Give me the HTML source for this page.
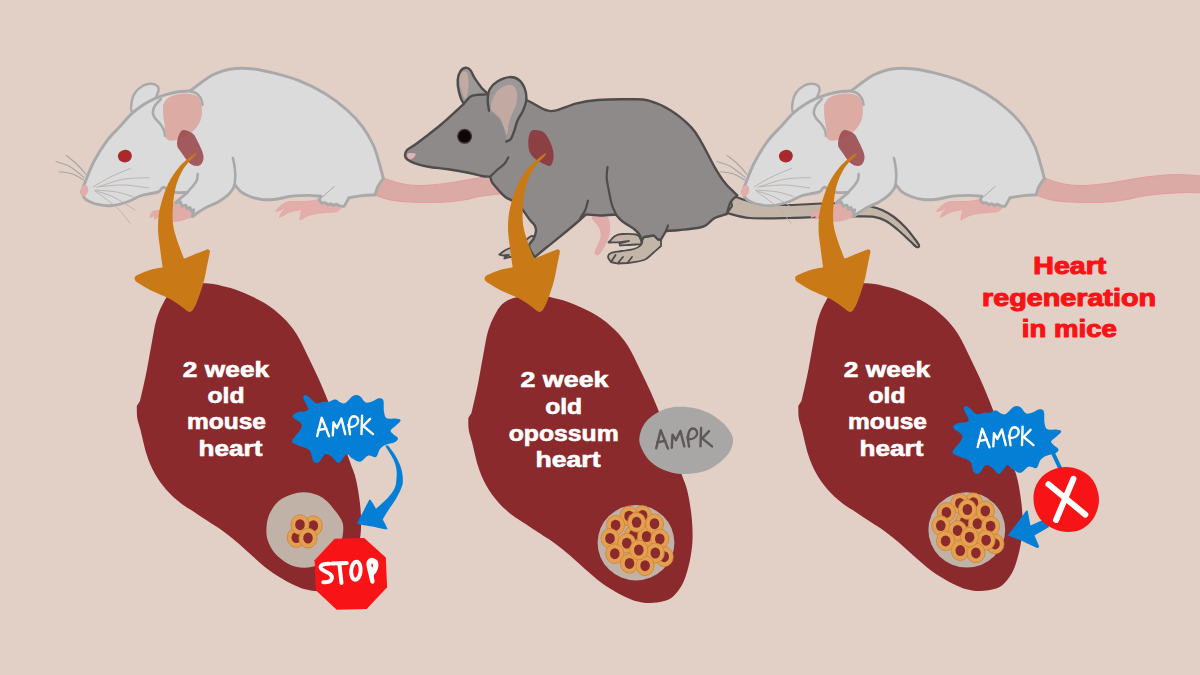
<!DOCTYPE html>
<html><head><meta charset="utf-8"><title>Heart regeneration in mice</title>
<style>html,body{margin:0;padding:0;background:#e2d0c7;overflow:hidden}svg{display:block}</style></head>
<body>
<svg width="1200" height="675" viewBox="0 0 1200 675"><defs>
<g id="mouse"><path d="M381 176C381.8 176.5 382.3 177.7 386 179C389.7 180.3 396.8 182.9 403 184C409.2 185.1 415.3 185.8 423 185.6C430.7 185.4 440.3 184.2 449 183C457.7 181.8 466.7 179.8 475 178.5C483.3 177.2 491.7 176.2 499 175.5C506.3 174.8 511.3 174.3 519 174.5C526.7 174.7 535.7 175.6 545 176.5C554.3 177.4 570 179.4 575 180C575 182.7 575 193.3 575 196C570 195.5 554.3 193.6 545 193C535.7 192.4 526.7 192.4 519 192.6C511.3 192.8 505.7 193.3 499 194C492.3 194.7 485 195.5 479 196.5C473 197.5 469.7 199 463 200C456.3 201 447.7 202.1 439 202.4C430.3 202.7 419.3 202.5 411 202C402.7 201.5 395 200.8 389 199.6C383 198.4 377.3 195.8 375 195C376 191.8 380 179.2 381 176Z" fill="#dcaaa5" stroke="#e39d9d" stroke-width="1.1"/><path d="M150.1 217.6C150.2 216.9 150.4 214.6 151 213.5C151.6 212.4 152.3 211.8 153.5 211.3C154.7 210.8 156.3 210.9 158.4 210.3C160.5 209.7 163.1 208.6 166 207.5C168.9 206.4 172.8 204.2 175.8 203.5C178.8 202.8 181.2 202.2 184 203C186.8 203.8 191.2 205.8 192.5 208C193.8 210.2 193.1 214.5 192 216.3C190.9 218.1 187.8 218.3 186 219C184.2 219.7 183.3 220 181.3 220.4C179.3 220.8 176.6 221.5 174 221.3C171.4 221.2 168.6 220.3 166 219.5C163.4 218.7 159.7 217.2 158.4 216.7C157.8 217.2 155.3 219.1 154.7 219.6C154.7 219 154.6 216.6 154.6 216C153.8 216.3 150.8 217.3 150.1 217.6Z" fill="#dfaca8" stroke="#e2a09f" stroke-width="0.6"/><path d="M323 199L308 201.3L289 201.5C284 202.5 278 207 275.6 211.6C279 211.5 283 208.5 287 207.5C283 210 280 214 279.4 217.6C283 216 287 213 291 211.6C295 210.5 299 210 302 209.7C300.5 213 299.8 217 300 220.3C303 218.5 306.5 216 310.5 215C315 213.5 322 213 336.5 211.8C339 210.5 341 208.5 343.5 206L340 200Z" fill="#e3adaa" stroke="#e2a09f" stroke-width="0.6"/><path d="M132.5 112C130.1 111.3 131.2 105.1 131.7 101.9C132.1 98.7 133.2 95.3 135.2 92.6C137.1 89.9 140.7 87 143.4 85.5C146.1 84 149.2 83.7 151.6 83.8C153.9 83.9 156.3 85 157.5 86.1C158.7 87.2 158.7 88.7 158.6 90.2C158.5 91.7 157.5 93.5 156.9 94.9C156.3 96.3 156.9 96.8 155.1 98.6C153.3 100.4 149.8 103.8 146 106C142.2 108.2 134.9 112.7 132.5 112Z" fill="#dbdbdb" stroke="#a9a9a9" stroke-width="2.5"/><path d="M81.5 192C82.2 190.1 83.7 185.7 85.7 180.7C87.7 175.7 90.2 168.7 93.7 162C97.2 155.3 102.6 146.6 107 140.7C111.4 134.8 115.9 131 120 126.5C124.1 122 127.8 117.2 131.7 113.6C135.6 110 139.5 107.3 143.4 104.8C147.3 102.3 151.2 100.2 155.1 98.4C159 96.7 162.9 95.4 166.8 94.3C170.7 93.2 174.6 92.2 178.5 91.7C182.4 91.2 188.2 91.1 190.2 91C192.1 89.5 198 84.8 201.9 82C205.8 79.2 209.1 76.6 213.7 74.5C218.3 72.4 223.5 70.2 229.7 69.2C235.9 68.2 243.9 68.1 251 68.7C258.1 69.3 264.3 70.7 272.3 72.7C280.3 74.7 290.1 77.2 299 80.7C307.9 84.2 317.7 89.1 325.7 94C333.7 98.9 340.8 104.5 347 110C353.2 115.5 358.6 121.3 363 127.3C367.4 133.3 370.9 139.9 373.7 146C376.4 152.1 377.9 158.6 379.5 164C381.1 169.4 382.7 176.1 383.3 178.5C382.4 179.9 379.1 184.2 377.7 186.9C376.3 189.7 375.4 193.7 375 195C372.9 195.1 366.8 195.1 362.5 195.6C358.2 196.1 351.2 197.4 349 197.8C348.2 199.2 344.9 205 344.1 206.4C343.4 206.3 340.5 206 339.8 205.9C339.2 205.6 337 204.5 336.5 204.2C336 204.4 333.8 205.1 333.2 205.3C332.8 205 331 204 330.5 203.7C330.1 203.9 328.2 204.6 327.8 204.8C327.4 204.4 325.6 203 325.1 202.6C324.6 202.7 322.4 203.1 321.9 203.2C321.4 202.6 319.6 200.4 319.2 199.9C319.5 199.3 320.7 196.8 321 196.2C318.9 196.1 313.1 195.4 308.3 195.4C303.5 195.4 297.5 195.5 292.1 196.1C286.7 196.7 280.8 198.6 275.8 199.2C270.8 199.8 266.3 199.9 262 199.5C257.7 199.1 253.5 197.8 250 196.5C246.5 195.2 243.6 193.9 241 191.9C238.4 189.9 235.7 185.7 234.6 184.5C234.3 185.3 234 187.3 232.8 189.2C231.5 191 229.7 193.5 227.2 195.6C224.7 197.7 221.8 199.8 218 202C214.2 204.2 208.6 206.1 204.3 208.5C200 210.9 194.3 215.3 192.3 216.7C192.5 215.5 193.5 211 193.7 209.8C193.3 210 191.8 211 191.4 211.2C191.2 210.6 190.2 208.1 190 207.5C189.6 207.7 187.8 208.7 187.3 208.9C187.1 208.3 186.1 205.9 185.9 205.2C185.3 205.4 182.8 206 182.2 206.2C181.9 205.5 180.7 202.7 180.4 202C179.6 202.1 176.2 202.4 175.4 202.5C177.4 200.8 185.5 194.2 187.5 192.5C186.5 192.5 183.3 192.6 181.3 192.6C179.3 192.6 177.6 192.9 175.4 192.4C173.2 191.9 170.1 190.3 168 189.5C165.9 188.7 164.6 186.9 163 187.3C161.4 187.7 160.7 190.8 158.4 191.9C156.1 193 152.3 193.1 149.2 193.8C146.1 194.5 143.5 194.7 140 196C136.5 197.3 132.9 199.9 128.3 201.5C123.7 203.1 117.2 205 112.3 205.5C107.4 206 103.4 205.7 99 204.7C94.6 203.7 88.6 201.4 85.7 199.3C82.8 197.2 82.2 193.2 81.5 192Z" fill="#dbdbdb" stroke="#a9a9a9" stroke-width="2.9" stroke-linejoin="round"/><path d="M234.6 185C234.7 183.4 235.3 178.5 235.3 175.3C235.3 172.1 234.9 168.9 234.5 166C234.1 163.1 233.2 159.3 232.9 158" fill="none" stroke="#a9a9a9" stroke-width="2.6" stroke-linecap="round"/><path d="M187.5 192C188.5 190.9 191.7 187.5 193.3 185.5C194.9 183.5 196.2 181.9 196.9 180C197.6 178.1 197.6 175 197.7 174" fill="none" stroke="#a9a9a9" stroke-width="2.6" stroke-linecap="round"/><path d="M161 99C160 100.1 156.5 103.2 155.1 105.4C153.7 107.7 152.8 110.3 152.8 112.5C152.8 114.7 153.8 116.3 155.1 118.3C156.4 120.2 158.9 122.2 160.4 124.2C161.9 126.2 163.1 128.1 163.9 130C164.7 131.9 164.9 134.9 165.1 135.9" fill="none" stroke="#a9a9a9" stroke-width="2.6" stroke-linecap="round"/><path d="M190.2 91.2C191.2 91.5 194.3 91.9 196.1 93.1C197.9 94.3 199.7 96.5 200.8 98.4C201.9 100.4 202.2 103.7 202.5 104.8" fill="none" stroke="#a9a9a9" stroke-width="2.6" stroke-linecap="round"/><path d="M334.3 186.4L320 199" fill="none" stroke="#a9a9a9" stroke-width="1" stroke-linecap="round"/><path d="M163.1 107.8C163.2 105.6 162.9 104.9 163.9 103.1C164.9 101.3 166.4 98.8 169.2 97.2C172 95.6 177 94.2 180.9 93.7C184.8 93.2 189.5 93.4 192.6 94.3C195.7 95.2 198 96.6 199.6 99C201.2 101.4 201.7 105.5 201.9 108.9C202.1 112.3 201.8 116.4 200.8 119.5C199.8 122.6 197.9 125.4 196.1 127.7C194.3 130 192.5 131.8 190.2 133.5C187.8 135.2 184.7 137 182 138.2C179.3 139.4 176.1 140.2 173.8 140.5C171.5 140.8 169.4 140.8 168 140C166.6 139.2 166.1 138 165.6 135.9C165.1 133.8 165.5 131 165.1 127.7C164.7 124.4 163.6 119.3 163.3 116C163 112.7 163 110 163.1 107.8Z" fill="#dcaca4"/><path d="M183.2 130C185.5 129.6 190.3 131.8 192.6 133.5C194.9 135.2 195.5 137.1 197.2 140.5C199 143.9 202.2 150.4 203.1 154C204 157.6 203.4 160 202.5 162C201.6 164 199.8 165.8 197.7 166C195.6 166.2 192.5 165.6 189.7 163.3C186.9 161 183.1 155 181 152C178.9 149 177.5 147.9 177.1 145.2C176.7 142.5 177.5 138.4 178.5 135.9C179.5 133.4 180.8 130.4 183.2 130Z" fill="#9c4b50" fill-opacity="0.9"/><ellipse cx="124.9" cy="156.1" rx="7" ry="6.3" transform="rotate(-10 124.9 156.1)" fill="#a72b2d"/><ellipse cx="84.3" cy="190.8" rx="3.8" ry="5.8" transform="rotate(15 84.3 190.8)" fill="#e3aeaa"/><path d="M66 155.3C67.8 156.8 73.4 160.8 76.7 164C80 167.2 84.5 172.8 86 174.5" stroke="#a7a6a5" stroke-width="1.1" fill="none" stroke-linecap="round"/><path d="M56 161.6C58.3 162.4 65.3 164 70 166.7C74.7 169.3 81.7 175.7 84 177.5" stroke="#a7a6a5" stroke-width="1.1" fill="none" stroke-linecap="round"/><path d="M59.3 171.7C61.5 172.1 68.7 172.6 72.7 174C76.7 175.4 81.7 179 83.5 180" stroke="#a7a6a5" stroke-width="1.1" fill="none" stroke-linecap="round"/><path d="M93.3 186.7C96.1 185.1 103.8 180.4 110 177.3C116.2 174.2 127.2 169.8 130.7 168.3" stroke="#b5afab" stroke-width="0.9" fill="none" stroke-linecap="round"/><path d="M96.7 187.3C101.1 186 114.5 180.9 123.3 179.3C132.1 177.7 145 177.9 149.3 177.6" stroke="#b5afab" stroke-width="0.9" fill="none" stroke-linecap="round"/><path d="M99.3 186.7C103.3 186.4 115.1 184.8 123.3 185C131.5 185.2 144.5 187.5 148.7 188" stroke="#b5afab" stroke-width="0.9" fill="none" stroke-linecap="round"/><path d="M96 190C99.5 190.3 110.6 190.9 116.7 192C122.8 193.1 130 195.8 132.7 196.5" stroke="#b5afab" stroke-width="0.9" fill="none" stroke-linecap="round"/><path d="M95.3 190.7C98.4 191.8 107.4 194.1 114 197.3C120.6 200.5 131.5 207.9 135 210" stroke="#b5afab" stroke-width="0.9" fill="none" stroke-linecap="round"/><path d="M94.7 190.7C96.8 192.2 103.2 196.8 107.3 200C111.4 203.2 115.5 206.1 119.3 210C123.1 213.9 128.2 221.1 130 223.3" stroke="#b5afab" stroke-width="0.9" fill="none" stroke-linecap="round"/></g>
<path id="oarrow" d="M195.3 155.2C193.7 157.5 187.2 162.9 184 168C180.8 173.1 177.8 179.7 176 186C174.2 192.3 173.5 199.7 173 206C172.5 212.3 172.3 218.3 173 224C173.7 229.7 175.2 234.2 177 240C178.8 245.8 182.8 255.6 184 258.7C187.5 257.3 200.9 251.7 205 250.2C209.1 248.7 207.5 249.4 208.3 249.6C209.1 249.8 209.7 250.5 209.9 251.2C210.1 251.9 210.1 250.9 209.5 254C208.9 257.1 207.3 265.1 206.3 270C205.3 274.9 204.7 278.4 203.3 283.3C201.9 288.2 199.5 295.3 198 299.3C196.5 303.3 195.3 305.6 194.3 307.5C193.3 309.4 192.6 310.3 191.8 311C191 311.7 190.2 312 189.3 311.9C188.4 311.8 187.7 311.4 186.5 310.6C185.3 309.8 184.8 308.9 182 307C179.2 305.1 175.3 301.8 170 299C164.7 296.2 155.2 292.6 150 290C144.8 287.4 141.5 285.1 139 283.5C136.5 281.9 135.9 281.5 135.2 280.5C134.5 279.5 134.4 278.4 134.8 277.5C135.2 276.6 135 276.2 137.5 275C140 273.8 145.8 271.3 150 270C154.2 268.7 160.6 267.8 162.7 267.3C162.2 264.1 160.8 254.6 160 248C159.2 241.4 158 234.7 158 228C158 221.3 158.3 215.3 160 208C161.7 200.7 164.7 191 168 184C171.3 177 175.8 170.9 180 166C184.2 161.1 190.9 156.2 193.5 154.4C196.1 152.6 196.9 152.9 195.3 155.2Z" fill="#c97916"/>
<path id="heart" d="M540 295.5C546.3 295.9 552.2 297.5 558 299C563.8 300.5 568.2 301.8 574.5 304.5C580.8 307.2 589.3 310.8 596 315C602.7 319.2 609.2 324.3 614.5 329.5C619.8 334.7 623.7 339.2 628 346C632.3 352.8 636.3 361.8 640.5 370.5C644.7 379.2 648.7 387.2 653.3 398C657.9 408.8 663.3 422.4 668 435C672.7 447.6 678.1 464 681.3 473.3C684.5 482.6 685.6 483.8 687.3 490.7C689 497.6 690.5 506.9 691.4 514.7C692.3 522.5 692.7 530.7 692.6 537.5C692.5 544.3 691.7 549.8 690.8 555.5C689.9 561.2 688.5 567 687 572C685.5 577 684.2 581.2 681.7 585.5C679.2 589.8 675.6 594.8 672 597.5C668.4 600.2 664 601.1 660 602C656 602.9 651.3 603 648 603C644.7 603 643 602.7 640 602C637 601.3 634.2 600.8 630 599C625.8 597.2 620 594.4 615 591.5C610 588.6 605 585.5 600 581.8C595 578 590 573.4 585 569C580 564.6 575 559.8 570 555.5C565 551.2 560 547.1 555 543.5C550 539.9 544.8 536.8 540 533.6C535.2 530.4 530.7 527.3 526 524.2C521.3 521.1 516.7 518.7 512 515C507.3 511.3 502.3 507 498 502C493.7 497 489.3 491 486 485C482.7 479 480.3 473.2 478 466C475.7 458.8 473.5 448 472 442C470.5 436 469.4 434 468.8 430C468.2 426 468.4 420 468.3 418C468.8 417.2 471 413.8 471.5 413C472.5 408.7 475.4 396.5 477.3 387.3C479.2 378.1 480.9 367.3 482.7 358C484.5 348.7 485.8 338.9 488 331.3C490.2 323.8 493.2 317.6 496 312.7C498.8 307.8 501 304.7 505 302C509 299.3 514.2 297.6 520 296.5C525.8 295.4 533.7 295.1 540 295.5Z" fill="#8b2a2c"/>
<g id="cell"><ellipse rx="9.1" ry="9.9" fill="#e4a050" stroke="#c9802f" stroke-width="0.7"/><ellipse rx="4.8" ry="5.5" fill="#8b2a2c"/></g>
<g id="cluster"><ellipse rx="38.4" ry="37.7" fill="#c0b2a6"/><use href="#cell" x="6.6" y="-27.2"/><use href="#cell" x="-6.9" y="-26.5"/><use href="#cell" x="-2.4" y="-7.7"/><use href="#cell" x="10.6" y="-6.2"/><use href="#cell" x="-20.4" y="-17.5"/><use href="#cell" x="18.5" y="-19"/><use href="#cell" x="-26" y="-4.3"/><use href="#cell" x="23.8" y="-3.7"/><use href="#cell" x="28.2" y="14"/><use href="#cell" x="-9.2" y="0.5"/><use href="#cell" x="-21.2" y="11"/><use href="#cell" x="19.3" y="10.3"/><use href="#cell" x="0.6" y="-20.4"/><use href="#cell" x="-6.5" y="20.7"/><use href="#cell" x="9.1" y="23"/><use href="#cell" x="2.8" y="7.3"/></g>
<g id="ampk" fill="none" stroke-width="2.4" stroke-linecap="round" stroke-linejoin="round"><path d="M317.2 436L321.7 417.8L329 436.3"/><path d="M318.4 430L326.3 428.6"/><path d="M332.8 435.4L333.5 422.3L336.9 427.9L341.4 418.6L345.3 434.1"/><path d="M348.4 424.6C349.3 429 349.8 431 350 434.3"/><path d="M349 425.5C349 420 351 416.3 353.6 416.2C357 416.2 358.8 419 357.9 422.3C357 425 353.5 427 349.6 427"/><path d="M362.1 415.6L361.5 434.1"/><path d="M370.1 418.8L363.2 426L373 434.1"/></g>
<path id="blob" d="M305.3 395C306.2 394.8 307.2 395.7 309 397C310.8 398.3 313.5 402.2 316 403C318.5 403.8 321.8 401.9 324 401.7C326.2 401.5 327.8 402 329.3 401.7C330.9 401.4 332 400 333.3 399.7C334.6 399.4 335.9 399.6 337 400C338.1 400.4 338.6 401.8 340 402.3C341.4 402.8 343.1 404.1 345.3 403C347.5 401.9 350.9 396.8 353.3 395.7C355.8 394.6 358 395.2 360 396.3C362 397.4 363.3 401.4 365.3 402.3C367.3 403.2 369.8 402.2 372 401.5C374.2 400.8 376.8 398.5 378.7 398.3C380.6 398.1 382.4 398.1 383.3 400.3C384.2 402.5 383.4 408.7 384 411.7C384.6 414.7 384.9 417.2 386.7 418.3C388.5 419.4 392.7 418.2 395 418.5C397.3 418.8 400.5 419.1 400.7 420.3C400.9 421.5 397.7 423.8 396 425.5C394.3 427.2 391.2 428.9 390.7 430.3C390.2 431.7 391.8 432.7 393 434C394.2 435.3 397.7 436.9 398 438.3C398.3 439.7 396.8 441.2 394.7 442.3C392.6 443.4 387.8 443.9 385.3 445C382.9 446.1 381.6 447 380 449C378.4 451 378 455.9 376 457C374 458.1 370.7 454.9 368 455.7C365.3 456.5 362.7 461.3 360 461.7C357.3 462.1 354.2 459.5 352 458.3C349.8 457.1 348.9 453.5 346.7 454.3C344.5 455.1 341.1 462.6 338.7 463C336.2 463.4 334.2 458.4 332 457C329.8 455.6 327.5 453.4 325.3 454.3C323.1 455.2 320.7 461.2 318.7 462.3C316.7 463.4 314.9 463 313.3 461C311.7 459 312 453 309.3 450.3C306.6 447.6 300.2 446.6 297.3 445C294.4 443.4 291.6 443.4 292 441C292.4 438.6 298.4 433.2 300 430.3C301.6 427.4 302.5 425.9 301.3 423.7C300.1 421.5 293.4 418.9 292.7 417C292 415.1 294.8 413.5 297.3 412.3C299.9 411.1 307 412 308 409.7C309 407.4 303.8 400.8 303.3 398.3C302.9 395.9 304.4 395.2 305.3 395Z" fill="#047fd5"/>
</defs>
<rect width="1200" height="675" fill="#e2d0c7"/>
<use href="#mouse"/>
<g id="opossum"><path d="M592 217C592.7 215.8 597.5 216 600 216C602.5 216 605.4 215.5 607 217C608.6 218.5 609.2 222 609.5 225C609.8 228 609.8 231.7 609 235C608.2 238.3 606.5 242 605 245C603.5 248 601.3 251.3 600 253C598.7 254.7 597.8 255.2 597 255C596.2 254.8 594.8 253.7 595 252C595.2 250.3 597 247.5 598 245C599 242.5 600.7 239.7 601 237C601.3 234.3 600.8 231.3 600 229C599.2 226.7 597.3 225 596 223C594.7 221 591.3 218.2 592 217Z" fill="#e0acaa" stroke="#e6a0a2" stroke-width="0.7"/><path d="M727 213C727.8 211.8 731.2 207.2 732 206C731.7 204.7 730.3 199.3 730 198C731 197.8 735 197.2 736 197C738 197.7 744 199.8 748 201C752 202.2 753 203.3 760 204C767 204.7 779.7 205.1 790 205C800.3 204.9 812 203.7 822 203.5C832 203.3 842 203.5 850 204C858 204.5 864.7 205.5 870 206.5C875.3 207.5 878 208.2 882 210C886 211.8 890 214 894 217C898 220 902.7 224.5 906 228C909.3 231.5 911.8 235.1 914 238C916.2 240.9 918.6 243.8 919 245.3C919.4 246.8 918 247.7 916.5 247C915 246.3 913.1 243.8 910 241C906.9 238.2 902 233.3 898 230C894 226.7 890 223.2 886 221C882 218.8 879.3 217.6 874 216.8C868.7 216 863 216.4 854 216.4C845 216.4 830.7 216.7 820 217C809.3 217.3 801.7 217.8 790 218C778.3 218.2 760.5 218.8 750 218C739.5 217.2 730.8 213.8 727 213Z" fill="#c3b5a8" stroke="#4f4c4c" stroke-width="2.2" stroke-linejoin="round"/><path d="M608.5 242.5C609.6 241.4 612.8 237.4 615 236C617.2 234.6 618.5 234.2 622 234C625.5 233.8 633 233.8 636 234.5C639 235.2 639.2 236.4 640 238C640.8 239.6 641.7 242.9 641 244C640.3 245.1 639.5 244.2 636 244.5C632.5 244.8 622.7 245.3 620 245.5C619.9 245.2 619.6 243.8 619.5 243.5C621.1 243.1 627.4 241.4 629 241C627.3 241.2 620.7 242.1 619 242.3C617.2 242.3 610.2 242.5 608.5 242.5Z" fill="#c3b5a8" stroke="#4f4c4c" stroke-width="1.8" stroke-linejoin="round"/><path d="M642.5 240C642.8 239.5 643.8 237.5 644 237C645.7 236.8 652.3 235.8 654 235.5C654.7 236.2 657.3 238.8 658 239.5C658.5 239.5 660.5 239.5 661 239.5C661 240.6 661 244.9 661 246C659.5 247.3 654.8 251.7 652 254C649.2 256.3 648 258.5 644 260C640 261.5 630.8 262.5 628 263C625.2 263.5 627.6 263 627.5 263C628.2 262 631.2 258 632 257C631.2 258 628.2 262 627.5 263C625.8 263.1 619.2 263.4 617.5 263.5C618.4 262.4 622.1 258.1 623 257C622.1 258.1 618.4 262.4 617.5 263.5C616.4 263.2 612.1 262.2 611 262C611.8 260.8 614.8 256.2 615.5 255C614.8 256.2 611.8 260.8 611 262C610.5 261.2 608 258.5 608 257C608 255.5 608.7 254 611 253C613.3 252 618.2 251.7 622 251C625.8 250.3 630.8 250 634 249C637.2 248 639.6 246.5 641 245C642.4 243.5 642.2 240.8 642.5 240Z" fill="#c3b5a8" stroke="#4f4c4c" stroke-width="1.8" stroke-linejoin="round"/><path d="M499.3 254.7C500.1 254.1 502.4 252 504 251C505.6 250 506.3 249.5 509 248.5C511.7 247.5 516.2 247.1 520 245C523.8 242.9 529.3 235.8 532 236C534.7 236.2 538 242.7 536 246C534 249.3 524.3 254.2 520 256C515.7 257.8 512.6 256.6 510 257C507.4 257.4 505.2 258.2 504.3 258.5C504.5 258.2 505.3 256.8 505.5 256.5C506.1 256.2 508.4 255.2 509 255C508 255.1 504 255.4 503 255.5C502.4 255.4 499.9 254.8 499.3 254.7Z" fill="#c3b5a8" stroke="#4f4c4c" stroke-width="1.8" stroke-linejoin="round"/><path d="M464.3 103.5C461.5 102.5 460.1 95.9 459 92C457.9 88.1 457.5 83.5 457.7 80C457.9 76.5 459 73.3 460.3 71.3C461.6 69.2 464 67.9 465.7 67.7C467.4 67.5 468.8 68.2 470.3 70C471.9 71.8 473.1 75.7 475 78.7C476.9 81.7 479.7 85.4 481.7 88C483.7 90.6 487.9 92.6 487 94.3C486.1 96 479.8 96.5 476 98C472.2 99.5 467.1 104.5 464.3 103.5Z" fill="#9b9897" stroke="#4f4c4c" stroke-width="2.4"/><path d="M465 98.7C463.9 98 461.9 92.4 461 89.3C460.1 86.2 459.6 82.6 459.6 80C459.6 77.4 460.2 74.9 461 73.5C461.8 72.1 463.4 71.5 464.5 71.5C465.6 71.5 466.6 71.6 467.3 73.5C468 75.4 468.4 79.4 468.5 82.7C468.6 86 468.3 90.6 467.7 93.3C467.1 96 466.1 99.4 465 98.7Z" fill="#c2a9a1"/><path d="M405 155.5C405 153.9 405.3 151.8 407 150C408.7 148.2 411.4 147.2 415 144.7C418.6 142.1 423.9 138.1 428.3 134.7C432.8 131.2 437.2 127.8 441.7 124C446.1 120.2 451.2 115.5 455 112C458.8 108.5 462.8 104.8 464.3 103.3C465.4 102.1 468.6 97.7 471 96.3C473.4 94.9 476.3 95 479 94.7C481.7 94.4 481.8 94.4 487 94.4C492.2 94.5 503.4 94.1 510 95C516.5 95.9 521.9 98.3 526.3 100C530.7 101.7 533.1 103.6 536.3 105.3C539.5 107 542.6 109.1 545.7 110C548.8 110.9 549.8 111.8 555 110.7C560.2 109.6 569.5 105.1 576.7 103.3C583.9 101.5 589.1 100.7 598 100C606.9 99.3 621.5 99.2 630 99.3C638.5 99.4 642 98.9 648.7 100.7C655.4 102.5 662.9 105.6 670 110C677.1 114.4 686 121.8 691.3 127.3C696.6 132.8 698.1 136.6 702 143.3C705.9 150 710.8 160.6 714.7 167.3C718.6 174 721.5 178.6 725.3 183.3C729.1 188 735.3 193.3 737.3 195.3C736.2 196.4 732.5 198.9 730.7 202C728.9 205.1 727.4 212 726.7 214C724.7 214.7 718 216.2 714.7 218C711.4 219.8 709.2 223.1 706.7 224.7C704.2 226.3 704.5 226.6 700 227.5C695.5 228.4 685.7 229.4 680 230C674.3 230.6 668.3 230.8 666 231C665.2 232.4 661.8 238.1 661 239.5C660.5 239.5 658.5 239.5 658 239.5C657.3 238.8 654.7 236.2 654 235.5C652.3 235.8 645.7 236.8 644 237C643.6 237.4 641.9 239.1 641.5 239.5C641.1 238.6 640.2 235.8 639 234C637.8 232.2 636.8 231.2 634 229C631.2 226.8 625 223.4 622 221C619 218.6 617 215.6 616 214.5C613.3 214.7 605 215.5 600 215.5C595 215.5 588.3 214.7 586 214.5C584.8 215.6 583 217.3 578.7 221C574.4 224.7 565.3 232.3 560 236.7C554.7 241.1 550.9 243.9 546.7 247.3C542.5 250.7 536.7 255.6 534.7 257.3C533.8 255.4 529.2 249.1 529 246C528.8 242.9 532.3 241.5 533.5 239C534.7 236.5 535.8 233.3 536 231C536.2 228.7 535.7 227.1 534.7 225.3C533.7 223.5 532.1 222.7 530 220C527.9 217.3 524.5 212 522 209C519.5 206 517.4 203.9 514.7 202C512 200.1 508.3 199.2 505.7 197.3C503.1 195.4 501.2 193.1 499 190.7C496.8 188.3 493.8 185 492.3 182.7C490.9 180.4 490.6 177.7 490.3 176.7C488.9 176.6 485.4 176.7 481.7 176C478 175.3 473.9 173.8 468.3 172.7C462.7 171.6 455 170.3 448.3 169.3C441.6 168.3 433.9 167.7 428.3 166.7C422.8 165.7 418.6 164.5 415 163.3C411.4 162.1 408.7 160.6 407 159.3C405.3 158 405 157.1 405 155.5Z" fill="#8e8a89" stroke="#4f4c4c" stroke-width="2.4" stroke-linejoin="round"/><path d="M490.3 176.7C491.3 175.7 494 172.8 496.3 170.7C498.6 168.6 502.3 166.2 504.3 164C506.3 161.8 507.6 158.4 508.3 157.3" fill="none" stroke="#4f4c4c" stroke-width="2.2" stroke-linecap="round"/><path d="M607.5 167C607.4 168.8 606.4 173.5 606.7 178C607 182.5 608.6 189.5 609.5 194C610.4 198.5 610.9 201.6 612 205C613.1 208.4 615.3 212.9 616 214.5" fill="none" stroke="#4f4c4c" stroke-width="2.2" stroke-linecap="round"/><path d="M668 225.5C667.7 226.4 666.3 230.1 666 231" fill="none" stroke="#4f4c4c" stroke-width="2.2" stroke-linecap="round"/><path d="M588 200.7C587.5 202.2 586.6 207 585.3 210C584 213 580.9 217.1 580 218.5" fill="none" stroke="#4f4c4c" stroke-width="2.2" stroke-linecap="round"/><path d="M489 110.7C488.8 108.9 487.6 103.6 487.7 100C487.8 96.4 488 92.4 489.7 89.3C491.4 86.2 494.4 83.3 497.7 81.3C501 79.3 506.1 77.3 509.7 77.1C513.2 76.9 516.5 78 519 80C521.5 82 523.8 86 525 89.3C526.2 92.6 526.6 96.4 526.3 100C526 103.6 524.4 107.4 523 110.7C521.6 114 519.2 116.7 517.7 120C516.2 123.3 515.4 127.6 514.3 130.7C513.2 133.8 512.3 136.9 511 138.7C509.7 140.5 507.1 141.1 506.3 141.6C506.1 140 505.8 135.2 505 132C504.2 128.8 503.1 125.4 501.7 122.7C500.2 120 498.4 118 496.3 116C494.2 114 490.2 111.6 489 110.7Z" fill="#9b9897"/><path d="M489 110.7C488.8 108.9 487.6 103.6 487.7 100C487.8 96.4 488 92.4 489.7 89.3C491.4 86.2 494.4 83.3 497.7 81.3C501 79.3 506.1 77.3 509.7 77.1C513.2 76.9 516.5 78 519 80C521.5 82 523.8 86 525 89.3C526.2 92.6 526.6 96.4 526.3 100C526 103.6 524.4 107.4 523 110.7C521.6 114 519.2 116.7 517.7 120C516.2 123.3 515.4 127.6 514.3 130.7C513.2 133.8 512.3 136.9 511 138.7C509.7 140.5 507.1 141.1 506.3 141.6" fill="none" stroke="#4f4c4c" stroke-width="2.4" stroke-linejoin="round" stroke-linecap="round"/><path d="M491 109.3C490.6 107.1 491.2 103.1 492.3 100C493.4 96.9 495.2 93.2 497.7 90.7C500.1 88.2 504.3 86.1 507 85.3C509.7 84.5 512 84.7 513.7 86C515.4 87.3 516.6 90.3 517 93.3C517.4 96.3 517.1 100.7 516.3 104C515.5 107.3 513.5 110.2 512.3 113.3C511.1 116.4 509.9 119.1 509 122.7C508.1 126.3 507.9 134 507 134.7C506.1 135.4 504.8 129.4 503.7 126.7C502.6 124 501.8 120.9 500.3 118.7C498.9 116.5 496.6 114.9 495 113.3C493.4 111.7 491.4 111.5 491 109.3Z" fill="#c2a9a1"/><path d="M531 131.3C532 130.3 532.8 129.8 535 130C537.2 130.2 541.6 130.4 544.3 132.7C547 135 549.4 140.1 551 144C552.6 147.9 553.7 152.4 553.7 156C553.7 159.6 552.3 163.9 551 165.3C549.7 166.8 548.4 165.8 545.7 164.7C543 163.6 537.7 160.8 535 158.7C532.3 156.6 530.8 154.4 529.7 152C528.6 149.6 528.4 146.7 528.3 144C528.2 141.3 528.5 138.1 529 136C529.5 133.9 530 132.3 531 131.3Z" fill="#8c3f45"/><circle cx="464.6" cy="136.3" r="6.9" fill="#0c0808" stroke="#4a3632" stroke-width="1.3"/><path d="M407 154.5C408 152.8 412 152.6 415.8 153.8C415.5 156.5 412.5 159.3 410 159.5C408 158.8 406.8 156.5 407 154.5Z" fill="#e2b3b4"/></g>
<use href="#mouse" x="661"/>
<use href="#heart" x="-331.5" y="-12"/><use href="#heart"/><use href="#heart" x="330" y="-12"/>
<use href="#oarrow"/><use href="#oarrow" x="350"/><use href="#oarrow" x="660.5"/>
<path d="M266.4 529C266.6 524.5 267.2 519 269.3 514.3C271.4 509.6 274.9 504.3 278.7 501C282.5 497.7 287.8 495.8 292 494.3C296.2 492.9 299.8 492.2 304 492.3C308.2 492.4 313.5 493.6 317.3 495C321.1 496.4 323.8 498.4 326.7 501C329.6 503.6 332.3 507.2 334.7 510.3C337.1 513.4 339.9 516.8 341.3 519.7C342.7 522.6 343.3 524.2 343.3 527.7C343.3 531.2 343 536.6 341.3 541C339.6 545.4 336.9 550.4 333.3 554.3C329.8 558.2 324.9 562.1 320 564.3C315.1 566.5 309.3 567.8 304 567.7C298.7 567.6 292.9 566.2 288 563.7C283.1 561.2 278 556.8 274.7 553C271.4 549.2 269.4 545 268 541C266.6 537 266.2 533.5 266.4 529Z" fill="#c0b2a6"/>
<g transform="translate(304.9 530)"><use href="#cell" x="-8.6" y="7.5"/><use href="#cell" x="8.4" y="-4.3"/><use href="#cell" x="-4.9" y="-5.3"/><use href="#cell" x="3.1" y="8.1"/></g>
<use href="#cluster" x="636" y="542.7"/><use href="#cluster" x="966.8" y="529.9"/>
<path d="M385.3 446C385.8 445.9 387.6 445.4 388 445.3C389.3 447.2 393.8 452.8 396 456.7C398.2 460.6 400.2 464.7 401.3 468.7C402.4 472.7 402.9 477.5 402.9 480.7C402.9 483.9 402.4 485 401.3 488C400.2 491 398.2 494.9 396 498.7C393.8 502.5 390.2 507.3 388 510.7C385.8 514.1 383.6 517.9 382.7 519.3C383.4 520.7 386.3 525.8 386.9 527.5C387.4 529.2 388.5 529.5 386 529.3C383.5 529.1 376.6 527.4 372 526.5C367.4 525.6 360.9 524.7 358.5 524.2C356.1 523.7 357.4 523.8 357.3 523.3C357.2 522.8 356.9 523.7 358 521.5C359.1 519.3 362.2 513.5 364 510C365.8 506.5 368 502 369 500.3C370 498.6 369.7 500 370 500C370.3 500 370 499.1 371 500.5C372 501.9 375.2 507.3 376 508.7C376.7 508.1 377.8 507.4 380 505.3C382.2 503.2 386.9 498.9 389.3 496C391.8 493.1 393.5 490.6 394.7 488C395.9 485.4 396 483.7 396.3 480.7C396.6 477.7 397 473.6 396.5 470C396 466.4 395.2 463.3 393.3 459.3C391.4 455.3 386.6 448.2 385.3 446Z" fill="#047fd5"/>
<use href="#blob"/><use href="#ampk" stroke="#fff"/>
<g transform="translate(660.5 11)">
<path d="M392 441L400 458" stroke="#047fd5" stroke-width="4" fill="none"/>
<use href="#blob"/><use href="#ampk" stroke="#fff"/></g>
<path d="M639.3 438.3C639.6 434.4 641.1 429.2 643.4 425.4C645.6 421.6 648.9 418.3 652.8 415.5C656.7 412.7 662.1 410 666.8 408.5C671.5 407 676 406.7 680.9 406.7C685.8 406.7 691 407.2 696.1 408.5C701.2 409.8 706.8 411.9 711.3 414.3C715.8 416.7 719.8 420.1 723 423.1C726.2 426.1 728.9 429.6 730.6 432.5C732.3 435.4 733.1 437.6 733 440.7C732.9 443.8 732 447.7 730 451.2C728 454.7 724.4 458.6 720.7 461.7C717 464.8 712.5 467.9 707.8 469.9C703.1 471.8 697.9 472.8 692.6 473.4C687.3 474 681.5 474.2 676.2 473.4C670.9 472.6 665.5 470.8 661 468.7C656.5 466.6 652.5 463.9 649.3 460.6C646.1 457.3 643.4 452.5 641.7 448.8C640 445.1 639 442.2 639.3 438.3Z" fill="#a8a7a5"/>
<use href="#ampk" x="339" y="12.3" stroke="#5d5757" stroke-width="2"/>
<path d="M334.6 538.8L364.2 537.9L385.8 557.4L387.1 587.2L366.7 608.9L336.7 609.8L315.8 590.2L314.6 560.3Z" fill="#f81416"/>
<g fill="none" stroke="#fff" stroke-width="4" stroke-linecap="round" stroke-linejoin="round"><path d="M329.2 563.7C325 563.5 320.6 564.6 320.6 567.4C320.8 570.6 327.5 571.8 330.5 574.5C333 577 332 580.3 329 581.7C327 582.5 325 582.4 323.3 582.2"/><path d="M332.3 563.6L346.8 563.1"/><path d="M339.3 563.6L341.5 583"/></g>
<ellipse cx="355.9" cy="570.8" rx="4.7" ry="9" transform="rotate(5 355.9 570.8)" fill="none" stroke="#fff" stroke-width="4"/>
<path d="M372.5 557.9C373.9 558.2 376.5 559.3 377.5 560.8C378.5 562.3 378.5 564.8 378.3 566.7C378.1 568.7 377 571 376.2 572.5C375.5 574 374 573.9 373.8 575.4C373.5 576.9 374.8 580.3 374.6 581.7C374.4 583.1 373.2 583.7 372.5 583.8C371.8 583.8 371.1 583.8 370.4 582.1C369.7 580.4 368.9 575.9 368.3 573.3C367.7 570.7 367 568.6 366.7 566.7C366.4 564.8 366.3 563 366.7 561.7C367.1 560.4 368.2 559.4 369.2 558.8C370.2 558.1 371.1 557.6 372.5 557.9Z" fill="#fff"/><ellipse cx="372.2" cy="565.4" rx="0.8" ry="2" transform="rotate(-8 372.2 565.4)" fill="#f81416"/>
<path d="M1045 519C1045.7 520.3 1048.3 525.7 1049 527C1046.6 528.4 1036.9 534.1 1034.5 535.5C1035.2 537.2 1038.3 544 1038.9 546C1039.5 548 1038.7 547.2 1038.2 547.5C1037.7 547.8 1038.7 548.6 1036 547.5C1033.3 546.4 1026.5 543 1022 541C1017.5 539 1011.1 536.8 1008.8 535.8C1006.5 534.8 1008.2 535.3 1008.2 535C1008.2 534.7 1007.2 536.2 1008.8 534C1010.4 531.8 1015.2 525.8 1018 522C1020.8 518.2 1024.3 513.2 1025.8 511.3C1027.3 509.4 1026.5 510.7 1026.8 510.7C1027.1 510.7 1027.2 509 1027.8 511.5C1028.4 514 1030 523.2 1030.5 525.5C1032.9 524.4 1042.6 520.1 1045 519Z" fill="#047fd5"/>
<path d="M1066 467C1070.7 467 1075.7 468 1080 470C1084.3 472 1089 475.3 1092 479C1095 482.7 1096.9 487.7 1098 492C1099.1 496.3 1099.3 500.5 1098.5 505C1097.7 509.5 1095.8 515 1093 519C1090.2 523 1086.2 526.8 1082 529C1077.8 531.2 1072.7 532 1068 532C1063.3 532 1058.5 531 1054 529C1049.5 527 1044.2 523.7 1041 520C1037.8 516.3 1035.7 511.7 1034.5 507C1033.3 502.3 1033.1 496.7 1034 492C1034.9 487.3 1037 482.7 1040 479C1043 475.3 1047.7 472 1052 470C1056.3 468 1061.3 467 1066 467Z" fill="#f81416"/>
<path d="M1048.5 484.3L1085.3 514.6M1073.4 478.8L1056.1 520" stroke="#fff" stroke-width="6" stroke-linecap="round" fill="none"/>
<g font-family="Liberation Sans, sans-serif" font-weight="bold" text-anchor="middle" opacity="0.999">
<text x="226" y="376.7" font-size="21.5" fill="#fff" textLength="86.4" lengthAdjust="spacingAndGlyphs" stroke="#fff" stroke-width="0.6">2 week</text>
<text x="226" y="403.3" font-size="21.5" fill="#fff" textLength="37" lengthAdjust="spacingAndGlyphs" stroke="#fff" stroke-width="0.6">old</text>
<text x="226.5" y="429.2" font-size="21.5" fill="#fff" textLength="79" lengthAdjust="spacingAndGlyphs" stroke="#fff" stroke-width="0.6">mouse</text>
<text x="230.5" y="455.5" font-size="21.5" fill="#fff" textLength="64" lengthAdjust="spacingAndGlyphs" stroke="#fff" stroke-width="0.6">heart</text>
<text x="887" y="376.7" font-size="21.5" fill="#fff" textLength="86.4" lengthAdjust="spacingAndGlyphs" stroke="#fff" stroke-width="0.6">2 week</text>
<text x="887" y="403.3" font-size="21.5" fill="#fff" textLength="37" lengthAdjust="spacingAndGlyphs" stroke="#fff" stroke-width="0.6">old</text>
<text x="887.5" y="429.2" font-size="21.5" fill="#fff" textLength="79" lengthAdjust="spacingAndGlyphs" stroke="#fff" stroke-width="0.6">mouse</text>
<text x="891.5" y="455.5" font-size="21.5" fill="#fff" textLength="64" lengthAdjust="spacingAndGlyphs" stroke="#fff" stroke-width="0.6">heart</text>
<text x="564.5" y="386.5" font-size="21.5" fill="#fff" textLength="88" lengthAdjust="spacingAndGlyphs" stroke="#fff" stroke-width="0.6">2 week</text>
<text x="563.7" y="414" font-size="21.5" fill="#fff" textLength="37" lengthAdjust="spacingAndGlyphs" stroke="#fff" stroke-width="0.6">old</text>
<text x="563.7" y="440.7" font-size="21.5" fill="#fff" textLength="110" lengthAdjust="spacingAndGlyphs" stroke="#fff" stroke-width="0.6">opossum</text>
<text x="568" y="467.3" font-size="21.5" fill="#fff" textLength="65" lengthAdjust="spacingAndGlyphs" stroke="#fff" stroke-width="0.6">heart</text>
<text x="1069.8" y="274.4" font-size="24" fill="#f81416" textLength="73" lengthAdjust="spacingAndGlyphs" stroke="#f81416" stroke-width="1.1" stroke-linejoin="round">Heart</text>
<text x="1069" y="306" font-size="24" fill="#f81416" textLength="174" lengthAdjust="spacingAndGlyphs" stroke="#f81416" stroke-width="1.1" stroke-linejoin="round">regeneration</text>
<text x="1069.3" y="337.4" font-size="24" fill="#f81416" textLength="95" lengthAdjust="spacingAndGlyphs" stroke="#f81416" stroke-width="1.1" stroke-linejoin="round">in mice</text>
</g></svg>
</body></html>
